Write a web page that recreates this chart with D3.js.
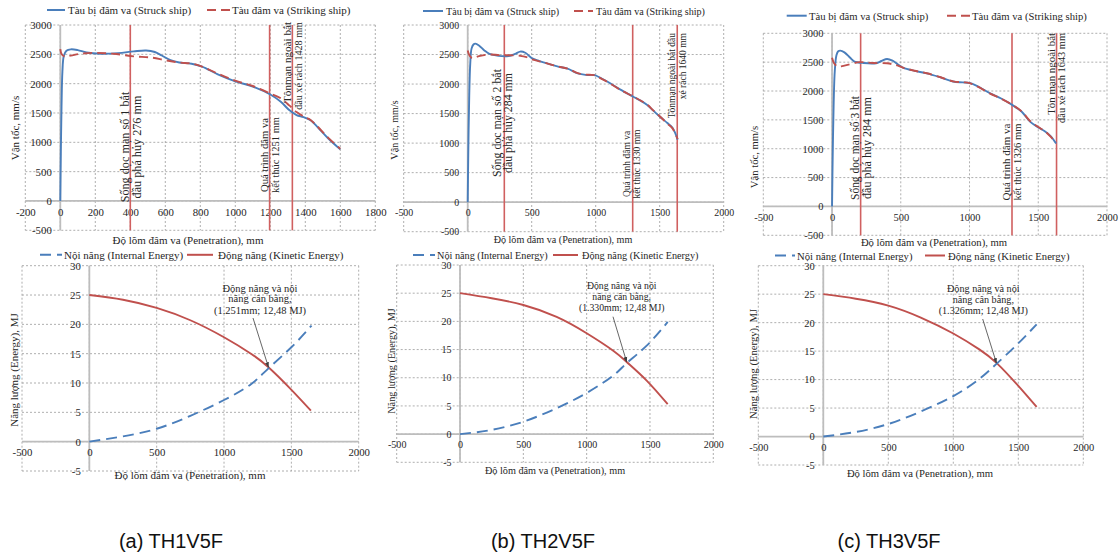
<!DOCTYPE html>
<html><head><meta charset="utf-8">
<script src="https://cdn.jsdelivr.net/npm/d3@7"></script>
<style>
body{margin:0;background:#fff}
svg{display:block}
text{font-family:"Liberation Serif","Times New Roman",serif;fill:#262626}
</style>
</head><body>
<svg id="c" width="1120" height="553"></svg>
<script>
// ---------------- DATA ----------------
const topXTicksA = [-200,0,200,400,600,800,1000,1200,1400,1600,1800];
const topXTicksBC = [-500,0,500,1000,1500,2000];
const topYTicks = [-500,0,500,1000,1500,2000,2500,3000];
const botXTicks = [-500,0,500,1000,1500,2000];
const botYTicks = [-5,0,5,10,15,20,25,30];

const struckA = [[0,0],[3,800],[7,1600],[12,2200],[20,2470],[35,2560],[60,2585],[100,2572],[150,2532],[230,2510],[330,2520],[420,2550],[490,2565],[540,2540],[580,2480],[630,2400],[680,2360],[750,2340],[810,2290],[900,2160],[1000,2040],[1100,1950],[1200,1815],[1260,1690],[1310,1545],[1350,1465],[1390,1430],[1430,1375],[1470,1260],[1530,1070],[1600,880]];
const strikingA = [[0,2590],[8,2500],[25,2462],[60,2478],[120,2512],[210,2525],[320,2505],[420,2465],[520,2445],[600,2400],[680,2360],[750,2342],[810,2292],[900,2170],[1000,2050],[1100,1960],[1200,1830],[1260,1750],[1310,1625],[1350,1515],[1400,1425],[1430,1380],[1470,1270],[1530,1080],[1600,890]];

const struckB = [[0,0],[5,900],[12,1800],[20,2350],[30,2600],[45,2670],[60,2685],[90,2650],[130,2570],[170,2510],[240,2478],[320,2475],[370,2510],[410,2550],[450,2530],[500,2440],[560,2390],[620,2350],[700,2300],[780,2260],[860,2180],[920,2155],[990,2150],[1050,2090],[1100,2030],[1190,1910],[1290,1790],[1350,1720],[1400,1650],[1450,1550],[1500,1450],[1560,1340],[1600,1260],[1640,1060]];
const strikingB = [[0,2570],[15,2480],[35,2440],[80,2468],[160,2500],[250,2490],[320,2488],[410,2478],[460,2455],[500,2420],[560,2385],[620,2350],[700,2300],[780,2262],[860,2185],[920,2160],[990,2150],[1050,2085],[1100,2025],[1190,1905],[1290,1792],[1350,1722],[1400,1655],[1450,1555],[1500,1455],[1560,1330],[1600,1250],[1640,1070]];

const struckC = [[0,0],[5,900],[12,1800],[20,2350],[32,2620],[45,2690],[60,2700],[90,2670],[130,2580],[160,2515],[230,2485],[320,2482],[360,2520],[400,2555],[440,2525],[480,2460],[520,2400],[600,2350],[690,2305],[790,2235],[880,2165],[950,2150],[1000,2140],[1060,2080],[1150,1960],[1230,1870],[1310,1760],[1380,1640],[1440,1470],[1500,1370],[1550,1300],[1590,1220],[1630,1090]];
const strikingC = [[0,2575],[15,2480],[40,2425],[90,2440],[200,2500],[300,2485],[400,2480],[440,2465],[480,2440],[520,2400],[600,2352],[690,2308],[790,2238],[880,2168],[950,2152],[1000,2138],[1060,2075],[1150,1955],[1230,1868],[1310,1762],[1380,1645],[1440,1480],[1500,1375],[1550,1300],[1590,1210],[1630,1100]];

const internalA = [[0,0],[250,0.9],[500,2.2],[750,4.4],[1000,7.1],[1200,9.8],[1330,12.5],[1500,16.1],[1650,19.8]];
const kineticA  = [[0,25.0],[250,24.2],[500,22.8],[750,20.7],[1000,17.8],[1200,15.0],[1330,12.7],[1490,9.1],[1645,5.3]];
const internalB = [[0,0],[237,0.7],[500,2.2],[763,4.6],[1000,7.3],[1210,10.4],[1316,12.6],[1474,15.7],[1640,19.9]];
const kineticB  = [[0,25.0],[250,24.1],[500,22.9],[763,20.8],[1000,17.9],[1210,14.8],[1316,12.8],[1474,9.5],[1640,5.3]];
const internalC = [[0,0],[250,0.8],[500,2.2],[750,4.4],[1000,7.1],[1200,10.1],[1334,12.8],[1488,16.1],[1641,19.7]];
const kineticC  = [[0,25.0],[250,24.2],[500,23.0],[750,20.9],[1000,18.1],[1200,15.3],[1334,12.9],[1488,9.2],[1641,5.2]];

const markersA = [400,1196,1326];
const markersB = [286,1289,1637];
const markersC = [208,1309,1633];
const markerTextA = [["Sống dọc mạn số 1 bắt","đầu phá hủy 276 mm"],["Quá trình đâm va","kết thúc 1251 mm"],["Tônmạn ngoài bắt","đầu xé rách 1428 mm"]];
const markerTextB = [["Sống dọc mạn số 2 bắt","đầu phá hủy 284 mm"],["Quá trình đâm va","kết thúc 1330 mm"],["Tônmạn ngoài bắt đầu","xé rách 1640 mm"]];
const markerTextC = [["Sống dọc mạn số 3 bắt","đầu phá hủy 284 mm"],["Quá trình đâm va","kết thúc 1326 mm"],["Tôn mạn ngoài bắt","đầu xé rách 1643 mm"]];

const eqTextA = ["Động năng và nội","năng cân bằng,","(1.251mm; 12,48 MJ)"];
const eqTextB = ["Động năng và nội","năng cân bằng,","(1.330mm; 12,48 MJ)"];
const eqTextC = ["Động năng và nội","năng cân bằng,","(1.326mm; 12,48 MJ)"];
const eqPointA = [1330,12.7], eqPointB = [1316,12.8], eqPointC = [1332,12.9];

const legendTop = ["Tàu bị đâm va (Struck ship)","Tàu đâm va (Striking ship)"];
const legendBot = ["Nội năng (Internal Energy)","Động năng (Kinetic Energy)"];
const xTitle = "Độ lõm đâm va (Penetration), mm";
const yTitleTop = "Vận tốc, mm/s";
const yTitleBot = "Năng lượng (Energy), MJ";
const captions = ["(a) TH1V5F","(b) TH2V5F","(c) TH3V5F"];

// ---------------- LAYOUT ----------------
const BLUE = "#4a7ebb", RED = "#c0504d", VLINE = "#d06060", GRID = "#9a9a9a", AXIS = "#bdbdbd";
const SERIF = "'Liberation Serif','Times New Roman',serif";

const topPanels = [
 {px:[25.3,375.3], py:[230.3,25], xd:[-200,1800], xt:topXTicksA, fs:1.0, s1:struckA, s2:strikingA,
  marks:markersA, mtext:markerTextA, mdx:[[-5,6.5],[-5,6],[-5,6]], my:[147,155,22], manchor:["middle","middle","end"],
  mlen:[[113,103],[74,76],[81,88]],
  leg:{y:10, l1:[47,65], t1:68, l2:[207,230], t2:232}, xtY:240, xtX:188, ytX:15, ytY:128},
 {px:[403.7,723.7], py:[231.7,25], xd:[-500,2000], xt:topXTicksBC, fs:0.92, s1:struckB, s2:strikingB,
  marks:markersB, mtext:markerTextB, mdx:[[-7.5,4],[-6,4],[-5.5,6]], my:[123,164,33], manchor:["middle","middle","end"],
  mlen:[[108,100],[65,63],[70,62]],
  leg:{y:11, l1:[423,443], t1:446, l2:[574,593], t2:596}, xtY:239.5, xtX:563, ytX:394, ytY:130},
 {px:[763.3,1107], py:[235.3,33.3], xd:[-500,2000], xt:topXTicksBC, fs:0.97, s1:struckC, s2:strikingC,
  marks:markersC, mtext:markerTextC, mdx:[[-5.7,6],[-6,5],[-5.6,5.4]], my:[148,162,33], manchor:["middle","middle","end"],
  mlen:[[104,102],[77,77],[82,90]],
  leg:{y:15.7, l1:[786.7,806.7], t1:809, l2:[947,970], t2:972}, xtY:242, xtX:934, ytX:754, ytY:157}
];
const botPanels = [
 {px:[22,358.7], py:[471,265.7], fs:1.0, s1:internalA, s2:kineticA, eqText:eqTextA, eqP:eqPointA,
  eqTx:260, eqTy:[288.3,298.8,310], arrowFrom:[253,318],
  leg:{y:254.8, l1:[40,62], t1:64, l2:[187,213], t2:218}, xtY:475, xtX:190, ytX:14, ytY:370},
 {px:[396.7,713.3], py:[462.3,265], fs:0.93, s1:internalB, s2:kineticB, eqText:eqTextB, eqP:eqPointB,
  eqTx:621.7, eqTy:[285.7,296.5,307.3], arrowFrom:[613,316.7],
  leg:{y:255, l1:[413,435], t1:437, l2:[553,578], t2:582}, xtY:470, xtX:555, ytX:391.7, ytY:361},
 {px:[758.3,1083.3], py:[465,265.7], fs:0.97, s1:internalC, s2:kineticC, eqText:eqTextC, eqP:eqPointC,
  eqTx:983.3, eqTy:[288.3,299,310], arrowFrom:[982.7,319],
  leg:{y:255.5, l1:[775,795], t1:797, l2:[925,945], t2:948}, xtY:473, xtX:920, ytX:753, ytY:364}
];
const captionPos = [[171,541],[543,541],[889,541]];

// ---------------- DRAW ----------------
const svg = d3.select("#c");
const defs = svg.append("defs");
defs.append("marker").attr("id","arr").attr("viewBox","0 0 10 10").attr("refX",9).attr("refY",5)
  .attr("markerWidth",7).attr("markerHeight",7).attr("orient","auto-start-reverse")
  .append("path").attr("d","M0,1.5 L10,5 L0,8.5 Z").attr("fill","#404040");

function frame(g, x, y, xt, yt, fs){
  const [x0,x1] = x.range(), [y1,y0] = y.range();
  g.selectAll(".vg").data(xt).join("line").attr("class","vg").attr("x1",d=>x(d)).attr("x2",d=>x(d)).attr("y1",y0).attr("y2",y1)
    .attr("stroke",GRID).attr("stroke-width",0.8).attr("stroke-dasharray","2,2");
  g.selectAll(".hg").data(yt).join("line").attr("class","hg").attr("x1",x0).attr("x2",x1).attr("y1",d=>y(d)).attr("y2",d=>y(d))
    .attr("stroke",GRID).attr("stroke-width",0.8).attr("stroke-dasharray","2,2");
  g.append("line").attr("x1",x0).attr("x2",x1).attr("y1",y(0)).attr("y2",y(0)).attr("stroke",AXIS).attr("stroke-width",1.8);
  g.append("line").attr("x1",x(0)).attr("x2",x(0)).attr("y1",y0).attr("y2",y1).attr("stroke",AXIS).attr("stroke-width",1.8);
  const ax = g.append("g").attr("transform",`translate(0,${y(0)})`)
    .call(d3.axisBottom(x).tickValues(xt).tickFormat(d=>String(d)).tickSize(0).tickPadding(7));
  ax.select(".domain").remove();
  ax.selectAll("text").style("font-family",SERIF).attr("font-size",10.8*fs).attr("fill","#262626");
  const ay = g.append("g").attr("transform",`translate(${x(0)},0)`)
    .call(d3.axisLeft(y).tickValues(yt).tickFormat(d=>String(d)).tickSize(0).tickPadding(8.5));
  ay.select(".domain").remove();
  ay.selectAll("text").style("font-family",SERIF).attr("font-size",10.8*fs).attr("fill","#262626");
}

function legend(g, L, texts, fs, dashed1, color1, color2, dashed2){
  g.append("line").attr("x1",L.l1[0]).attr("x2",L.l1[1]).attr("y1",L.y).attr("y2",L.y)
    .attr("stroke",color1).attr("stroke-width",2).attr("stroke-dasharray",dashed1);
  g.append("text").attr("x",L.t1).attr("y",L.y).attr("dominant-baseline","central").attr("font-size",11*fs).text(texts[0]);
  g.append("line").attr("x1",L.l2[0]).attr("x2",L.l2[1]).attr("y1",L.y).attr("y2",L.y)
    .attr("stroke",color2).attr("stroke-width",2).attr("stroke-dasharray",dashed2);
  g.append("text").attr("x",L.t2).attr("y",L.y).attr("dominant-baseline","central").attr("font-size",11*fs).text(texts[1]);
}

function titles(g, P, yt){
  g.append("text").attr("x",P.xtX).attr("y",P.xtY).attr("text-anchor","middle").attr("dominant-baseline","central")
    .attr("font-size",11*P.fs).text(xTitle);
  g.append("text").attr("transform",`translate(${P.ytX},${P.ytY}) rotate(-90)`).attr("text-anchor","middle")
    .attr("dominant-baseline","central").attr("font-size",11*P.fs).text(yt);
}

const topLine = (x,y)=>d3.line().x(d=>x(d[0])).y(d=>y(d[1])).curve(d3.curveCatmullRom.alpha(0.5));
const botLine = (x,y)=>d3.line().x(d=>x(d[0])).y(d=>y(d[1])).curve(d3.curveNatural);

topPanels.forEach(P=>{
  const g = svg.append("g");
  const x = d3.scaleLinear().domain(P.xd).range(P.px);
  const y = d3.scaleLinear().domain([-500,3000]).range(P.py);
  frame(g,x,y,P.xt,topYTicks,P.fs);
  g.selectAll(".mk").data(P.marks).join("line").attr("class","mk")
    .attr("x1",d=>x(d)).attr("x2",d=>x(d)).attr("y1",P.py[1]).attr("y2",P.py[0])
    .attr("stroke",VLINE).attr("stroke-width",1.6);
  g.append("path").attr("d",topLine(x,y)(P.s1)).attr("fill","none").attr("stroke",BLUE).attr("stroke-width",1.9);
  g.append("path").attr("d",topLine(x,y)(P.s2)).attr("fill","none").attr("stroke",RED).attr("stroke-width",1.9)
    .attr("stroke-dasharray","9,5");
  P.marks.forEach((m,i)=>{
    P.mtext[i].forEach((t,j)=>{
      const base = 11;
      const tx = g.append("text").attr("transform",`translate(${x(m)+P.mdx[i][j]},${P.my[i]}) rotate(-90)`)
        .attr("text-anchor",P.manchor[i]).attr("dominant-baseline","central")
        .attr("font-size",base).text(t);
      const nat = tx.node().getComputedTextLength();
      const fsz = Math.max(9.5, Math.min(12.2, base*P.mlen[i][j]/nat));
      tx.attr("font-size",fsz);
    });
  });
  legend(g,P.leg,legendTop,P.fs,null,BLUE,RED,"9,5");
  titles(g,P,yTitleTop);
});

botPanels.forEach(P=>{
  const g = svg.append("g");
  const x = d3.scaleLinear().domain([-500,2000]).range(P.px);
  const y = d3.scaleLinear().domain([-5,30]).range(P.py);
  frame(g,x,y,botXTicks,botYTicks,P.fs);
  g.append("path").attr("d",botLine(x,y)(P.s2)).attr("fill","none").attr("stroke",RED).attr("stroke-width",1.9);
  g.append("path").attr("d",botLine(x,y)(P.s1)).attr("fill","none").attr("stroke",BLUE).attr("stroke-width",1.9)
    .attr("stroke-dasharray","11,6");
  P.eqText.forEach((t,i)=>{
    g.append("text").attr("x",P.eqTx).attr("y",P.eqTy[i]).attr("text-anchor","middle").attr("dominant-baseline","central")
      .attr("font-size",10.5*P.fs).text(t);
  });
  g.append("line").attr("x1",P.arrowFrom[0]).attr("y1",P.arrowFrom[1]).attr("x2",x(P.eqP[0])).attr("y2",y(P.eqP[1]))
    .attr("stroke","#404040").attr("stroke-width",0.8).attr("marker-end","url(#arr)");
  legend(g,P.leg,legendBot,P.fs,"11,6",BLUE,RED,null);
  titles(g,P,yTitleBot);
});

svg.selectAll(".cap").data(captions).join("text").attr("class","cap")
  .attr("x",(d,i)=>captionPos[i][0]).attr("y",(d,i)=>captionPos[i][1])
  .attr("text-anchor","middle").attr("dominant-baseline","central")
  .style("font-family","'Liberation Sans',Arial,sans-serif").attr("font-size",20).style("fill","#111").text(d=>d);
</script>
</body></html>
